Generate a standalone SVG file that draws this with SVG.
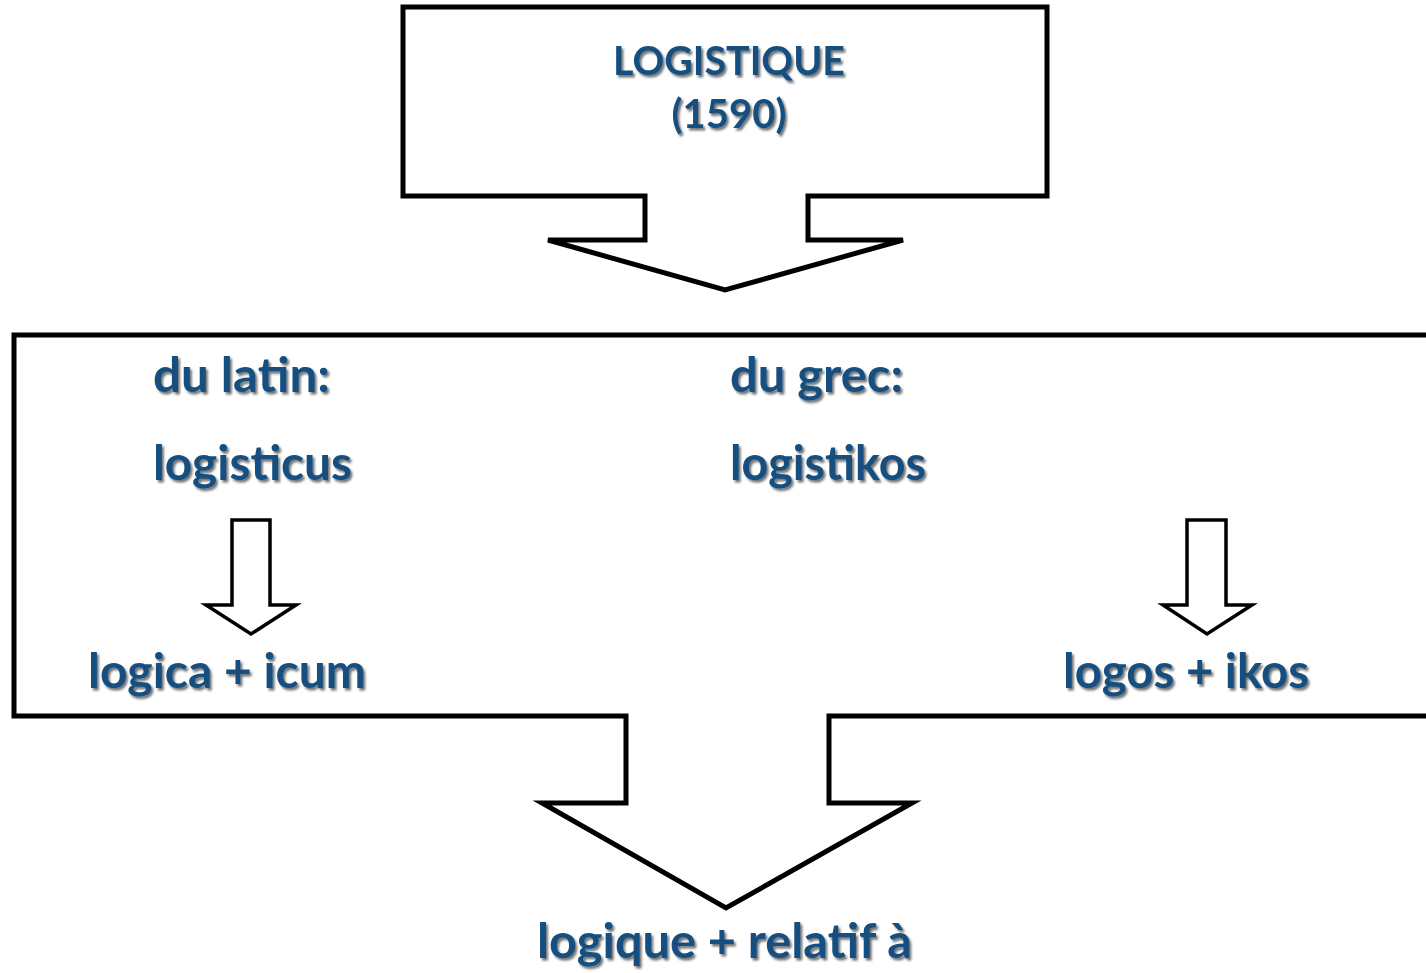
<svg xmlns="http://www.w3.org/2000/svg" width="1426" height="973" viewBox="0 0 1426 973">
  <defs>
    <filter id="shadow" x="-10%" y="-20%" width="120%" height="150%">
      <feDropShadow dx="2" dy="2.5" stdDeviation="1.2" flood-color="#000" flood-opacity="0.55"/>
    </filter>
  </defs>
  <style>
    .callout { fill: #fff; stroke: #000; stroke-width: 5; stroke-linejoin: miter; }
    .arrow { fill: #fff; stroke: #000; stroke-width: 3.5; stroke-linejoin: miter; }
    .lbl { font-family: Lato, "Open Sans", "Liberation Sans", sans-serif; font-weight: bold; fill: #15507f; filter: url(#shadow); }
    .big { font-size: 47px; }
    .mid { font-size: 40px; }
    .mid-c { text-anchor: middle; }
  </style>
  <rect width="1426" height="973" fill="#fff"/>

  <!-- heading callout with its down arrow -->
  <g id="node-logistique">
    <path class="callout" d="M403,7 H1047 V196 H808 V240 H903 L725,290 L548,240 H645 V196 H403 Z"/>
    <text class="lbl mid mid-c" x="729" y="75" textLength="232" lengthAdjust="spacingAndGlyphs">LOGISTIQUE</text>
    <text class="lbl mid mid-c" x="729" y="128">(1590)</text>
  </g>

  <!-- origins callout with its down arrow -->
  <g id="node-origines">
    <path class="callout" d="M14,335 H1440 V716 H829 V803 H912 L726,908 L542,803 H626 V716 H14 Z"/>
    <text class="lbl big" x="153" y="392" textLength="177" lengthAdjust="spacingAndGlyphs">du latin:</text>
    <text class="lbl big" x="153" y="480" textLength="199" lengthAdjust="spacingAndGlyphs">logisticus</text>
    <text class="lbl big" x="88" y="688" textLength="278" lengthAdjust="spacingAndGlyphs">logica + icum</text>
    <text class="lbl big" x="730" y="392" textLength="173" lengthAdjust="spacingAndGlyphs">du grec:</text>
    <text class="lbl big" x="730" y="480" textLength="196" lengthAdjust="spacingAndGlyphs">logistikos</text>
    <text class="lbl big" x="1063" y="688" textLength="246" lengthAdjust="spacingAndGlyphs">logos + ikos</text>
  </g>

  <g id="node-sens">
    <text class="lbl big" x="537" y="958" textLength="375" lengthAdjust="spacingAndGlyphs">logique + relatif à</text>
  </g>

  <!-- small block arrows inside the origins callout -->
  <g id="connectors">
    <path class="arrow" d="M232,520 H270 V605 H296 L251,634 L206,605 H232 Z"/>
    <path class="arrow" d="M1187,520 H1226 V605 H1252 L1207,634 L1163,605 H1187 Z"/>
  </g>
</svg>
